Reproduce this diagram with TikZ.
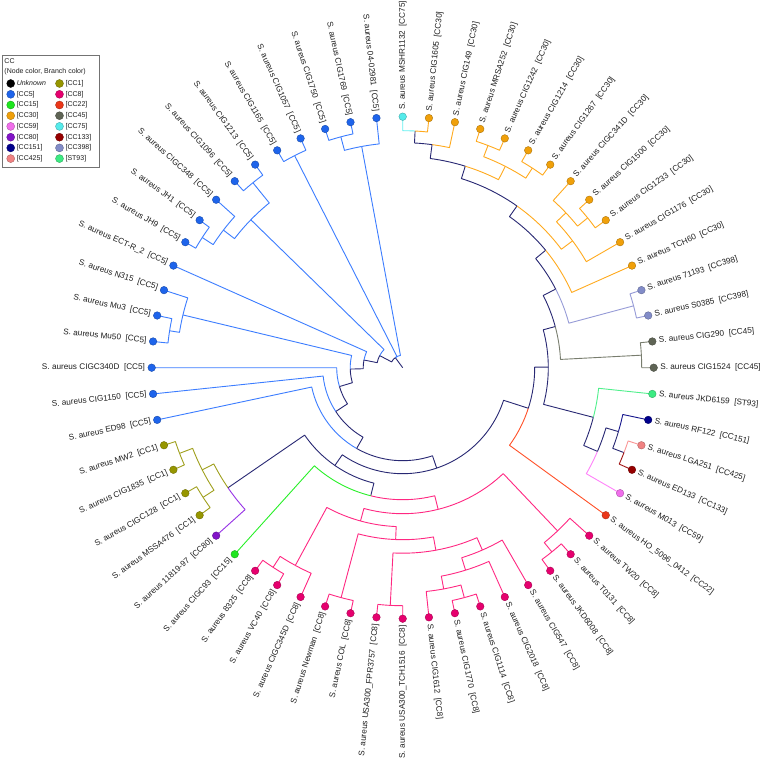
\documentclass[tikz,border=0pt]{standalone}
\usepackage{fontspec}
\setmainfont{Liberation Sans}
% node (dot) colours
\definecolor{dccunk}{RGB}{0,0,0}
\definecolor{dcc1}{RGB}{150,150,0}
\definecolor{dcc5}{RGB}{30,100,235}
\definecolor{dcc8}{RGB}{230,0,110}
\definecolor{dcc15}{RGB}{30,230,30}
\definecolor{dcc22}{RGB}{235,55,25}
\definecolor{dcc30}{RGB}{240,160,10}
\definecolor{dcc45}{RGB}{95,100,85}
\definecolor{dcc59}{RGB}{240,110,235}
\definecolor{dcc75}{RGB}{85,235,235}
\definecolor{dcc80}{RGB}{130,20,200}
\definecolor{dcc133}{RGB}{150,0,0}
\definecolor{dcc151}{RGB}{0,0,140}
\definecolor{dcc398}{RGB}{130,140,200}
\definecolor{dcc425}{RGB}{240,130,130}
\definecolor{dccst93}{RGB}{60,235,130}
% branch colours
\definecolor{bcc1}{RGB}{160,160,30}
\definecolor{bcc5}{RGB}{60,125,255}
\definecolor{bcc8}{RGB}{255,40,130}
\definecolor{bcc15}{RGB}{40,240,40}
\definecolor{bcc22}{RGB}{255,80,40}
\definecolor{bcc30}{RGB}{255,170,30}
\definecolor{bcc45}{RGB}{120,125,110}
\definecolor{bcc59}{RGB}{255,130,250}
\definecolor{bcc75}{RGB}{100,240,240}
\definecolor{bcc80}{RGB}{150,50,230}
\definecolor{bcc133}{RGB}{160,20,20}
\definecolor{bcc151}{RGB}{20,20,140}
\definecolor{bcc398}{RGB}{150,155,215}
\definecolor{bcc425}{RGB}{250,150,150}
\definecolor{bccst93}{RGB}{80,240,140}
\definecolor{binner}{RGB}{40,40,115}

\newcommand\defnd[3]{\expandafter\xdef\csname tang@#1\endcsname{#2}\expandafter\xdef\csname trad@#1\endcsname{#3}\coordinate (#1) at (#2:#3pt);}
\newcommand\An[1]{\csname tang@#1\endcsname}
\newcommand\Rd[1]{\csname trad@#1\endcsname}
\newcommand\brn[3]{\draw[brs,#3] (#1) -- (\An{#1}:\Rd{#2}pt) arc[start angle=\An{#1}, end angle=\An{#2}, radius=\Rd{#2}pt];}
\newcommand\leafdraw[3]{%
  \node[dotst, fill=dcc#3, draw=dcc#3!70!black] (d#1) at (#1) {};
  \ifdim\An{#1}pt>270pt
    \node[lblst, anchor=west, rotate=\An{#1}] (t#1) at (\An{#1}:257.5pt) {S. aureus #2};
  \else
    \node[lblst, anchor=east, rotate=\An{#1}-180] (t#1) at (\An{#1}:257.5pt) {S. aureus #2};
  \fi}
\newcommand\legentry[5]{%
  \node[legdot, fill=dcc#4, draw=dcc#4!70!black] (g#1) at (#2pt,#3pt) {};
  \node[legtxt, anchor=west] (h#1) at ([xshift=5.9pt]g#1.center) {#5};}

\begin{document}
\begin{tikzpicture}[
  brs/.style={line width=0.9pt, line join=round},
  dotst/.style={circle, inner sep=0pt, minimum size=7.6pt, line width=0.35pt},
  lblst/.style={font=\fontsize{8.2}{9.5}\selectfont, inner sep=0pt, text=black!88},
  legtxt/.style={font=\fontsize{7}{8}\selectfont, inner sep=0pt, text=black!88},
  legbox/.style={draw=black!55, line width=0.8pt, inner sep=0pt},
  legdot/.style={circle, inner sep=0pt, minimum size=8pt, line width=0.35pt}]
\useasboundingbox (-402.7pt,-392.3pt) rectangle (359.3pt,367.7pt);
\path[fill=white] (-402.7pt,-392.3pt) rectangle (359.3pt,367.7pt);

% ---------- leaves ----------
\foreach \i in {1,...,60} {\pgfmathtruncatemacro\ph{450-6*(\i-1)}\defnd{L\i}{\ph}{251}}
% ---------- internal nodes (angle, radius) ----------
\coordinate (O) at (0,0);
\defnd{R}{126.4}{12.5}
\defnd{N1}{152.3}{26}
\defnd{N2}{168.8}{39.5}
\defnd{N3}{181.5}{52.5}
\defnd{N4}{196.6}{66}
\defnd{N5}{213.2}{80}
\defnd{K}{240.3}{93}
\defnd{Ln}{288.7}{106}
\defnd{T}{235.25}{119}
\defnd{S}{214.5}{212}
\defnd{PQ}{207}{225}
\defnd{P}{201}{239}
\defnd{Q}{213}{238}
\defnd{U}{256}{132}
\defnd{V}{284.05}{146}
\defnd{V1}{254.6}{159}
\defnd{V11}{241.5}{225}
\defnd{Vc}{237}{238}
\defnd{V12}{267.65}{172}
\defnd{V121}{255}{238}
\defnd{V122}{280.3}{185.5}
\defnd{V1221}{267}{238}
\defnd{V1222}{293.6}{199}
\defnd{V12221}{287.25}{212}
\defnd{Va}{280.5}{225}
\defnd{Vb}{285}{238}
\defnd{V2}{313.5}{225}
\defnd{Vt}{309}{237}
\defnd{W}{342.1}{132}
\defnd{X}{360.25}{145.6}
\defnd{Y}{345.4}{197}
\defnd{Z}{336.75}{212}
\defnd{Z2}{343.5}{225}
\defnd{Z3}{339}{237}
\defnd{X2}{375.1}{158}
\defnd{C45}{363}{239}
\defnd{X3}{387.2}{172}
\defnd{C398}{375}{239}
\defnd{X4}{399.4}{185}
\defnd{X5}{414.75}{198}
\defnd{O1}{396.75}{212}
\defnd{O2}{403.5}{225}
\defnd{O3}{399}{238}
\defnd{X6}{432.75}{211}
\defnd{O4}{423}{226}
\defnd{O4a}{417}{238}
\defnd{O4b}{429}{238}
\defnd{X7}{442.5}{225}
\defnd{M}{447}{237}
\defnd{A}{105}{239}
\defnd{B}{100.5}{225}
\defnd{F}{117}{238}
\defnd{G}{129}{238}
\defnd{I}{147}{239}
\defnd{J}{142.5}{226}
\defnd{H}{135.75}{212}
\defnd{C}{171}{236}
\defnd{D}{166.5}{226}

% ---------- branches ----------
\draw[brs,binner] (O) -- (R);
\brn{B}{R}{bcc5} \brn{F}{R}{bcc5} \brn{N1}{R}{binner}
\brn{H}{N1}{bcc5} \brn{N2}{N1}{binner}
\brn{L50}{N2}{bcc5} \brn{N3}{N2}{binner}
\brn{D}{N3}{bcc5} \brn{N4}{N3}{binner}
\brn{L46}{N4}{bcc5} \brn{N5}{N4}{binner}
\brn{L45}{N5}{bcc5} \brn{K}{N5}{binner}
\brn{L44}{K}{bcc5} \brn{Ln}{K}{binner}
\brn{T}{Ln}{binner} \brn{W}{Ln}{binner}
\brn{S}{T}{binner} \brn{U}{T}{binner}
% CC1 / CC80
\brn{PQ}{S}{bcc1} \brn{L39}{S}{bcc80}
\brn{P}{PQ}{bcc1} \brn{Q}{PQ}{bcc1}
\brn{L43}{P}{bcc1} \brn{L42}{P}{bcc1} \brn{L41}{Q}{bcc1} \brn{L40}{Q}{bcc1}
% CC15 / CC8
\brn{L38}{U}{bcc15} \brn{V}{U}{bcc8}
\brn{V1}{V}{bcc8} \brn{V2}{V}{bcc8}
\brn{V11}{V1}{bcc8} \brn{V12}{V1}{bcc8}
\brn{Vc}{V11}{bcc8} \brn{L35}{V11}{bcc8}
\brn{L37}{Vc}{bcc8} \brn{L36}{Vc}{bcc8}
\brn{V121}{V12}{bcc8} \brn{V122}{V12}{bcc8}
\brn{L34}{V121}{bcc8} \brn{L33}{V121}{bcc8}
\brn{V1221}{V122}{bcc8} \brn{V1222}{V122}{bcc8}
\brn{L32}{V1221}{bcc8} \brn{L31}{V1221}{bcc8}
\brn{V12221}{V1222}{bcc8} \brn{L26}{V1222}{bcc8}
\brn{Va}{V12221}{bcc8} \brn{L27}{V12221}{bcc8}
\brn{L30}{Va}{bcc8} \brn{Vb}{Va}{bcc8}
\brn{L29}{Vb}{bcc8} \brn{L28}{Vb}{bcc8}
\brn{Vt}{V2}{bcc8} \brn{L23}{V2}{bcc8}
\brn{L25}{Vt}{bcc8} \brn{L24}{Vt}{bcc8}
% right side
\brn{L22}{W}{bcc22} \brn{X}{W}{binner}
\brn{Y}{X}{binner} \brn{X2}{X}{binner}
\brn{Z}{Y}{binner} \brn{L17}{Y}{bccst93}
\brn{L21}{Z}{bcc59} \brn{Z2}{Z}{binner}
\brn{Z3}{Z2}{binner} \brn{L18}{Z2}{bcc151}
\brn{L20}{Z3}{bcc133} \brn{L19}{Z3}{bcc425}
\brn{C45}{X2}{bcc45} \brn{X3}{X2}{binner}
\brn{L16}{C45}{bcc45} \brn{L15}{C45}{bcc45}
\brn{C398}{X3}{bcc398} \brn{X4}{X3}{binner}
\brn{L14}{C398}{bcc398} \brn{L13}{C398}{bcc398}
\brn{L12}{X4}{bcc30} \brn{X5}{X4}{binner}
\brn{O1}{X5}{bcc30} \brn{X6}{X5}{binner}
\brn{L11}{O1}{bcc30} \brn{O2}{O1}{bcc30}
\brn{O3}{O2}{bcc30} \brn{L8}{O2}{bcc30}
\brn{L10}{O3}{bcc30} \brn{L9}{O3}{bcc30}
\brn{O4}{X6}{bcc30} \brn{X7}{X6}{binner}
\brn{O4a}{O4}{bcc30} \brn{O4b}{O4}{bcc30}
\brn{L7}{O4a}{bcc30} \brn{L6}{O4a}{bcc30}
\brn{L5}{O4b}{bcc30} \brn{L4}{O4b}{bcc30}
\brn{L3}{X7}{bcc30} \brn{M}{X7}{binner}
\brn{L2}{M}{bcc30} \brn{L1}{M}{bcc75}
% CC5 subclades
\brn{A}{B}{bcc5} \brn{L60}{B}{bcc5}
\brn{L59}{A}{bcc5} \brn{L58}{A}{bcc5}
\brn{L57}{F}{bcc5} \brn{L56}{F}{bcc5}
\brn{G}{H}{bcc5} \brn{J}{H}{bcc5}
\brn{L55}{G}{bcc5} \brn{L54}{G}{bcc5}
\brn{L53}{J}{bcc5} \brn{I}{J}{bcc5}
\brn{L52}{I}{bcc5} \brn{L51}{I}{bcc5}
\brn{L49}{D}{bcc5} \brn{C}{D}{bcc5}
\brn{L48}{C}{bcc5} \brn{L47}{C}{bcc5}

% ---------- leaf dots and labels ----------
\leafdraw{L1}{MSHR1132~~[CC75]}{75}
\leafdraw{L2}{CIG1605~~[CC30]}{30}
\leafdraw{L3}{CIG149~~[CC30]}{30}
\leafdraw{L4}{MRSA252~~[CC30]}{30}
\leafdraw{L5}{CIG1242~~[CC30]}{30}
\leafdraw{L6}{CIG1214~~[CC30]}{30}
\leafdraw{L7}{CIG1267~~[CC30]}{30}
\leafdraw{L8}{CIGC341D~~[CC30]}{30}
\leafdraw{L9}{CIG1500~~[CC30]}{30}
\leafdraw{L10}{CIG1233~~[CC30]}{30}
\leafdraw{L11}{CIG1176~~[CC30]}{30}
\leafdraw{L12}{TCH60~~[CC30]}{30}
\leafdraw{L13}{71193~~[CC398]}{398}
\leafdraw{L14}{S0385~~[CC398]}{398}
\leafdraw{L15}{CIG290~~[CC45]}{45}
\leafdraw{L16}{CIG1524~~[CC45]}{45}
\leafdraw{L17}{JKD6159~~[ST93]}{st93}
\leafdraw{L18}{RF122~~[CC151]}{151}
\leafdraw{L19}{LGA251~~[CC425]}{425}
\leafdraw{L20}{ED133~~[CC133]}{133}
\leafdraw{L21}{M013~~[CC59]}{59}
\leafdraw{L22}{HO\_5096\_0412~~[CC22]}{22}
\leafdraw{L23}{TW20~~[CC8]}{8}
\leafdraw{L24}{T0131~~[CC8]}{8}
\leafdraw{L25}{JKD6008~~[CC8]}{8}
\leafdraw{L26}{CIG547~~[CC8]}{8}
\leafdraw{L27}{CIG2018~~[CC8]}{8}
\leafdraw{L28}{CIG1114~~[CC8]}{8}
\leafdraw{L29}{CIG1770~~[CC8]}{8}
\leafdraw{L30}{CIG1612~~[CC8]}{8}
\leafdraw{L31}{USA300\_TCH1516~~[CC8]}{8}
\leafdraw{L32}{USA300\_FPR3757~~[CC8]}{8}
\leafdraw{L33}{COL~~[CC8]}{8}
\leafdraw{L34}{Newman~~[CC8]}{8}
\leafdraw{L35}{CIGC345D~~[CC8]}{8}
\leafdraw{L36}{VC40~~[CC8]}{8}
\leafdraw{L37}{8325~~[CC8]}{8}
\leafdraw{L38}{CIGC93~~[CC15]}{15}
\leafdraw{L39}{11819-97~~[CC80]}{80}
\leafdraw{L40}{MSSA476~~[CC1]}{1}
\leafdraw{L41}{CIGC128~~[CC1]}{1}
\leafdraw{L42}{CIG1835~~[CC1]}{1}
\leafdraw{L43}{MW2~~[CC1]}{1}
\leafdraw{L44}{ED98~~[CC5]}{5}
\leafdraw{L45}{CIG1150~~[CC5]}{5}
\leafdraw{L46}{CIGC340D~~[CC5]}{5}
\leafdraw{L47}{Mu50~~[CC5]}{5}
\leafdraw{L48}{Mu3~~[CC5]}{5}
\leafdraw{L49}{N315~~[CC5]}{5}
\leafdraw{L50}{ECT-R\_2~~[CC5]}{5}
\leafdraw{L51}{JH9~~[CC5]}{5}
\leafdraw{L52}{JH1~~[CC5]}{5}
\leafdraw{L53}{CIGC348~~[CC5]}{5}
\leafdraw{L54}{CIG1096~~[CC5]}{5}
\leafdraw{L55}{CIG1213~~[CC5]}{5}
\leafdraw{L56}{CIG1165~~[CC5]}{5}
\leafdraw{L57}{CIG1057~~[CC5]}{5}
\leafdraw{L58}{CIG1750~~[CC5]}{5}
\leafdraw{L59}{CIG1769~~[CC5]}{5}
\leafdraw{L60}{04-02981~~[CC5]}{5}

% ---------- legend ----------
\node[legbox, anchor=north west, minimum width=97pt, minimum height=112pt] (leg) at (-400.7pt,312.7pt) {};
\node[legtxt, anchor=west] (legT) at (-398.4pt,306.3pt) {CC};
\node[legtxt, anchor=west] (legS) at (-398.4pt,295.6pt) {(Node color, Branch color)};
\legentry{a}{-392}{284.2}{unk}{\itshape Unknown}
\legentry{b}{-392}{273.4}{5}{[CC5]}
\legentry{c}{-392}{262.7}{15}{[CC15]}
\legentry{d}{-392}{252.0}{30}{[CC30]}
\legentry{e}{-392}{241.3}{59}{[CC59]}
\legentry{f}{-392}{230.5}{80}{[CC80]}
\legentry{g}{-392}{219.8}{151}{[CC151]}
\legentry{h}{-392}{209.1}{425}{[CC425]}
\legentry{i}{-343.2}{284.2}{1}{[CC1]}
\legentry{j}{-343.2}{273.4}{8}{[CC8]}
\legentry{k}{-343.2}{262.7}{22}{[CC22]}
\legentry{l}{-343.2}{252.0}{45}{[CC45]}
\legentry{m}{-343.2}{241.3}{75}{[CC75]}
\legentry{n}{-343.2}{230.5}{133}{[CC133]}
\legentry{o}{-343.2}{219.8}{398}{[CC398]}
\legentry{p}{-343.2}{209.1}{st93}{[ST93]}
\end{tikzpicture}
\end{document}
